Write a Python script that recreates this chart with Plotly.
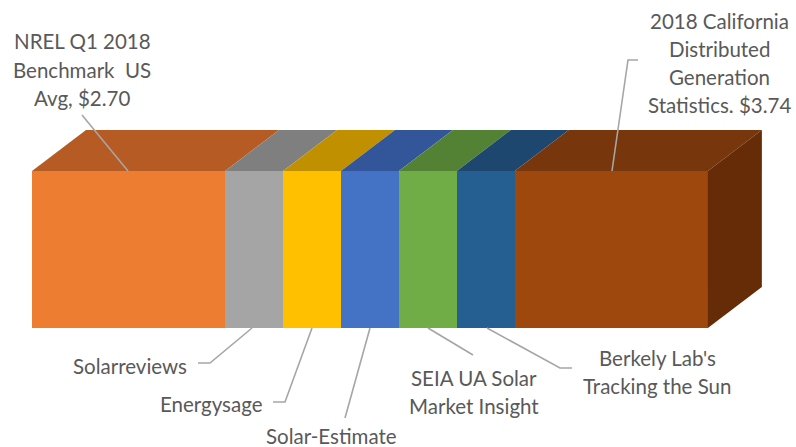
import plotly.graph_objects as go

# ---------------- data ----------------
sources = [
    "NREL Q1 2018 Benchmark US Avg, $2.70",
    "Solarreviews",
    "Energysage",
    "Solar-Estimate",
    "SEIA UA Solar Market Insight",
    "Berkely Lab's Tracking the Sun",
    "2018 California Distributed Generation Statistics. $3.74",
]
segment_values = [10, 3, 3, 3, 3, 3, 10]
front_colors = ["#ED7D31", "#A5A5A5", "#FFC000", "#4472C4", "#70AD47", "#255E91", "#9E480E"]
top_colors = ["#B55B23", "#7F7F7F", "#C09000", "#335599", "#548235", "#1D476E", "#77360B"]
side_color = "#652C07"

# ---------------- geometry helpers (pixel <-> data) ----------------
W, H = 796, 447
X0_PX, UNIT_PX = 32.0, 19.31      # left edge of bar, pixels per value unit
YB_PX, YT_PX = 328.0, 171.0        # bottom / top of front face
Y_UNIT = YB_PX - YT_PX
DX = 54.0 / UNIT_PX                # depth offset in x (data)
DY = 41.0 / Y_UNIT                 # depth offset in y (data)


def px(xp, yp):
    return (xp - X0_PX) / UNIT_PX, (YB_PX - yp) / Y_UNIT


xr = [px(0, 0)[0], px(W, 0)[0]]
yr = [px(0, H)[1], px(0, 0)[1]]

fig = go.Figure()

# cumulative positions
starts, ends = [], []
acc = 0.0
for v in segment_values:
    starts.append(acc)
    acc += v
    ends.append(acc)

# top faces
for s, e, c in zip(starts, ends, top_colors):
    fig.add_trace(go.Scatter(
        x=[s, e, e + DX, s + DX, s], y=[1, 1, 1 + DY, 1 + DY, 1],
        fill="toself", fillcolor=c, mode="lines", line=dict(width=0, color=c),
        hoverinfo="skip", showlegend=False))

# right side face of the last segment
e = ends[-1]
fig.add_trace(go.Scatter(
    x=[e, e + DX, e + DX, e, e], y=[0, DY, 1 + DY, 1, 0],
    fill="toself", fillcolor=side_color, mode="lines", line=dict(width=0, color=side_color),
    hoverinfo="skip", showlegend=False))

# front faces (stacked horizontal bars)
for name, v, c in zip(sources, segment_values, front_colors):
    fig.add_trace(go.Bar(
        y=[0.5], x=[v], orientation="h", width=1.0, name=name,
        marker=dict(color=c, line=dict(width=0)), showlegend=False))

# ---------------- leader lines ----------------
line_col = "#A6A6A6"
leaders = [
    [px(82, 115), (px(128, 0)[0], 1.0)],
    [px(198, 363), px(210, 363), (px(252, 0)[0], 0.0)],
    [px(273, 402), px(285, 402), (px(312, 0)[0], 0.0)],
    [px(345, 418), (px(370, 0)[0], 0.0)],
    [px(473, 355), (px(428, 0)[0], 0.0)],
    [px(572, 368), px(560, 368), (px(487, 0)[0], 0.0)],
    [px(638, 60), px(628, 60), (px(612, 0)[0], 1.0)],
]
for pts in leaders:
    fig.add_trace(go.Scatter(
        x=[p[0] for p in pts], y=[p[1] for p in pts], mode="lines",
        line=dict(color=line_col, width=1.6), hoverinfo="skip", showlegend=False))

# ---------------- labels (one annotation per text line) ----------------
FONT = dict(family="Lato, 'Open Sans', sans-serif", size=20.5, color="#595959")
labels = [
    (["NREL Q1 2018", "Benchmark  US", "Avg, $2.70"], 82, [40, 69, 97], "center"),
    (["Solarreviews"], 189, [365], "right"),
    (["Energysage"], 265, [403], "right"),
    (["Solar-Estimate"], 331, [435], "center"),
    (["SEIA UA Solar", "Market Insight"], 474, [377, 405], "center"),
    (["Berkely Lab's", "Tracking the Sun"], 657, [357, 385], "center"),
    (["2018 California", "Distributed", "Generation", "Statistics. $3.74"], 719, [20, 48, 76, 104], "center"),
]
for lines, xp, yps, al in labels:
    for text, yp in zip(lines, yps):
        x, y = px(xp, yp + 1)
        fig.add_annotation(
            x=x, y=y, text=text, showarrow=False, font=FONT, align="center",
            xanchor=al, yanchor="middle")

fig.update_layout(
    barmode="stack", bargap=0,
    width=W, height=H, margin=dict(l=0, r=0, t=0, b=0),
    paper_bgcolor="white", plot_bgcolor="white",
    xaxis=dict(range=xr, visible=False, fixedrange=True),
    yaxis=dict(range=yr, visible=False, fixedrange=True),
)

fig.write_html("out.html")
